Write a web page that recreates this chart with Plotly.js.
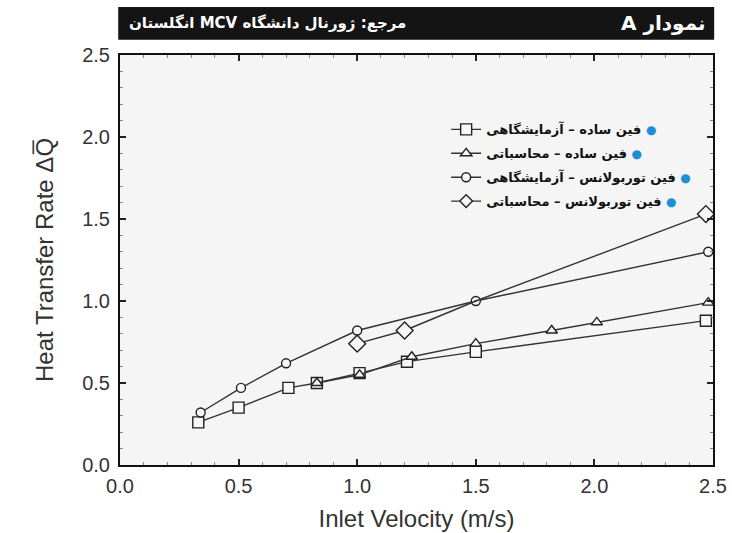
<!DOCTYPE html>
<html>
<head>
<meta charset="utf-8">
<script src="https://cdn.plot.ly/plotly-3.0.1.min.js"></script>
<style>html,body{margin:0;padding:0;background:#fff;}#chart{width:732px;height:533px;}</style>
</head>
<body>
<div id="chart"></div>
<script>
// Data
const plainExpX = [0.33, 0.50, 0.71, 0.83, 1.01, 1.21, 1.50, 2.47];
const plainExpY = [0.26, 0.35, 0.47, 0.50, 0.56, 0.63, 0.69, 0.88];
const plainCalcX = [0.83, 1.01, 1.23, 1.50, 1.82, 2.01, 2.48];
const plainCalcY = [0.50, 0.55, 0.66, 0.74, 0.82, 0.87, 0.99];
const turbExpX = [0.34, 0.51, 0.70, 1.00, 1.50, 2.48];
const turbExpY = [0.32, 0.47, 0.62, 0.82, 1.00, 1.30];
const turbCalcX = [1.00, 1.20, 1.50, 2.47];
const turbCalcY = [0.74, 0.82, 1.00, 1.53];

const seriesNames = [
  'فین ساده – آزمایشگاهی',
  'فین ساده – محاسباتی',
  'فین توربولانس – آزمایشگاهی',
  'فین توربولانس – محاسباتی'
];
const xTitle = 'Inlet Velocity (m/s)';
const yTitle = 'Heat Transfer Rate \u0394Q\u0305';
const headerRight = 'A نمودار';
const headerLeft = '\u202Bمرجع: ژورنال دانشگاه MCV انگلستان\u202C';

const dot = '<span style="color:#1e8fd6;font-size:12px">●</span>';
function legendLabel(s){ return '<b>\u202B' + dot + ' ' + s + '\u202C</b>'; }

const lineStyle = {color:'#333', width:1.4};
function mk(symbol, size){
  return {symbol:symbol, size:size, color:'#f7f7f7', opacity:1, line:{color:'#222', width:1.4}};
}

const traces = [
  {x:plainExpX, y:plainExpY, name:legendLabel(seriesNames[0]), legendgroup:'g1', mode:'lines+markers', line:lineStyle, marker:mk('square', 11)},
  {x:plainCalcX, y:plainCalcY, name:legendLabel(seriesNames[1]), legendgroup:'g2', mode:'lines+markers', line:lineStyle, marker:mk('triangle-up', 10)},
  {x:turbExpX, y:turbExpY, name:legendLabel(seriesNames[2]), legendgroup:'g3', mode:'lines+markers', line:lineStyle, marker:mk('circle', 9)},
  {x:turbCalcX, y:turbCalcY, name:legendLabel(seriesNames[3]), legendgroup:'g4', mode:'lines+markers', line:lineStyle,
   marker:Object.assign(mk('diamond', 13), {size:[13,13,0.1,13]})}
];

const tickFont = {family:'Liberation Sans, Arial, sans-serif', size:20, color:'#333'};
const titleFont = {family:'Liberation Sans, Arial, sans-serif', size:24, color:'#333'};

const axisCommon = {
  showline:true, linecolor:'#111', linewidth:2, mirror:'ticks',
  ticks:'inside', ticklen:6, tickwidth:2, tickcolor:'#222',
  showgrid:false, zeroline:false,
  tickfont:tickFont,
  minor:{dtick:0.1, ticks:'inside', ticklen:3, tickwidth:1, tickcolor:'#888'}
};

const layout = {
  width:732, height:533,
  margin:{l:120, r:19, t:55, b:68},
  paper_bgcolor:'#ffffff',
  plot_bgcolor:'#f5f5f5',
  showlegend:true,
  legend:{x:0.55, y:0.855, xanchor:'left', yanchor:'top', bgcolor:'rgba(0,0,0,0)',
    font:{family:'DejaVu Sans, sans-serif', size:13, color:'#111'}, tracegroupgap:4},
  xaxis:Object.assign({}, axisCommon, {range:[0,2.5], dtick:0.5, tickformat:'.1f', ticklabelstandoff:2,
    title:{text:xTitle, font:titleFont, standoff:14}}),
  yaxis:Object.assign({}, axisCommon, {range:[0,2.5], dtick:0.5, tickformat:'.1f', ticklabelstandoff:4,
    title:{text:yTitle, font:titleFont, standoff:22}}),
  shapes:[{type:'rect', xref:'paper', yref:'paper', x0:-0.003, x1:1.002, y0:1.037, y1:1.117,
    fillcolor:'#141414', line:{width:0}, layer:'above'}],
  annotations:[
    {xref:'paper', yref:'paper', x:0.992, y:1.077, xanchor:'right', yanchor:'middle', showarrow:false,
     text:'<b>'+headerRight+'</b>', font:{family:'DejaVu Sans, sans-serif', size:20, color:'#fff'}},
    {xref:'paper', yref:'paper', x:0.012, y:1.077, xanchor:'left', yanchor:'middle', showarrow:false,
     text:'<b>'+headerLeft+'</b>', font:{family:'DejaVu Sans, sans-serif', size:15, color:'#fff'}}
  ]
};

Plotly.newPlot('chart', traces, layout, {staticPlot:true, displayModeBar:false});
</script>
</body>
</html>
